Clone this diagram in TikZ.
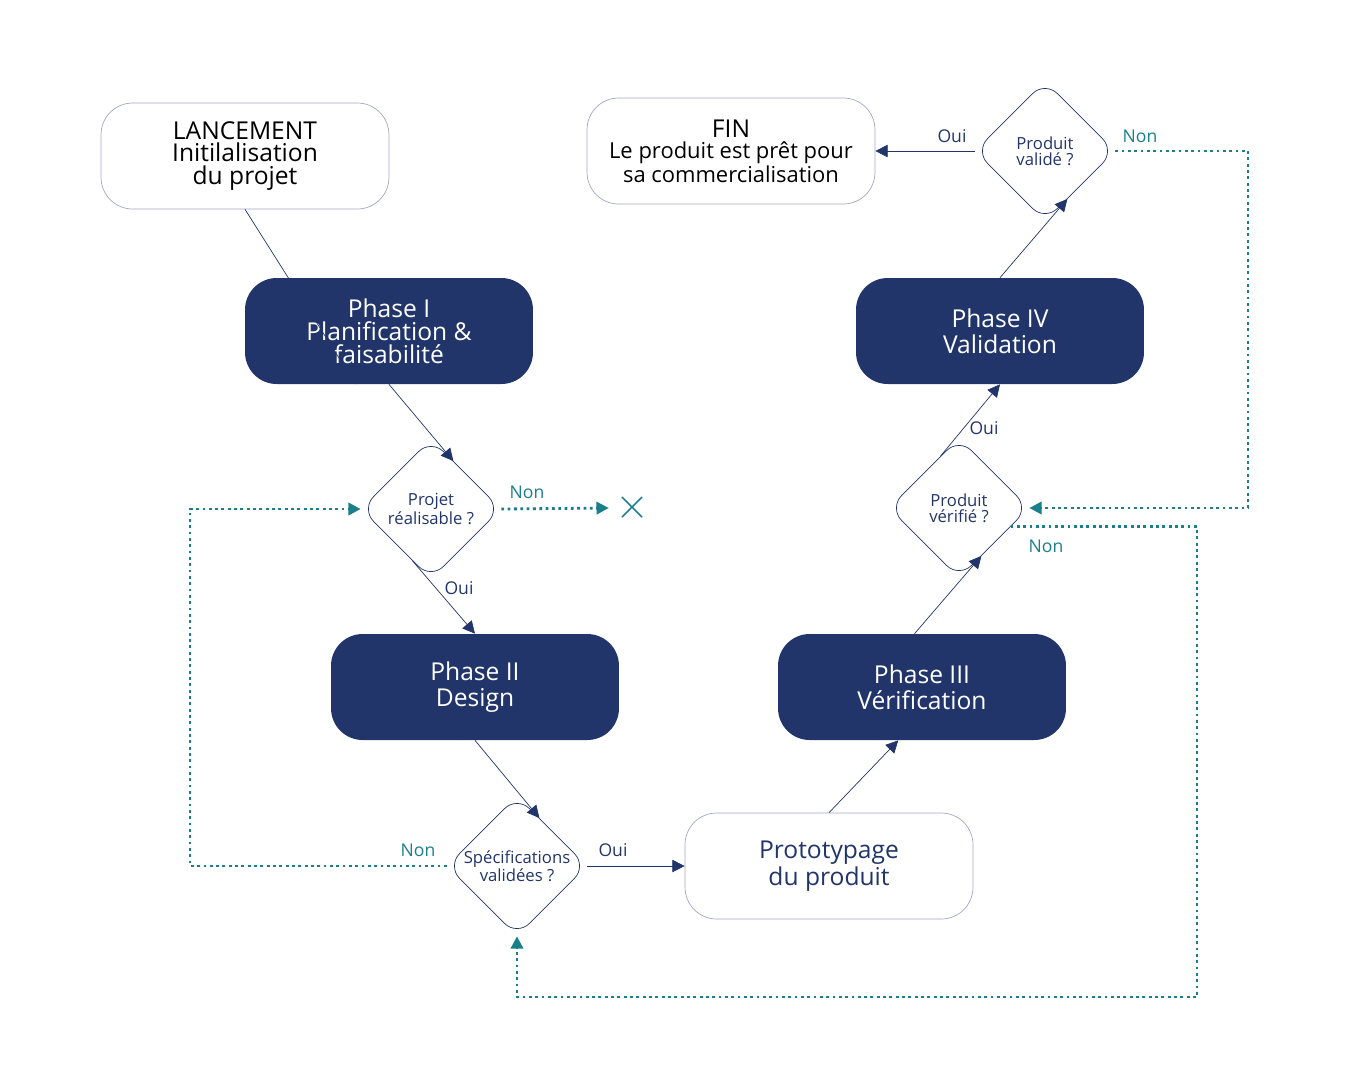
\documentclass[tikz,border=0pt]{standalone}
\usepackage{fontspec}
\setmainfont{Open Sans}
\usetikzlibrary{shapes.geometric,arrows.meta}
\definecolor{navy}{HTML}{22356B}
\definecolor{teal}{HTML}{1A7F8A}
\definecolor{lavande}{HTML}{A4A6C8}
\tikzset{
  box/.style={rectangle, rounded corners=18pt, minimum width=5.76cm, minimum height=2.12cm,
    align=center, font=\fontsize{14}{13}\selectfont},
  blanc/.style={box, draw=lavande, fill=white},
  phase/.style={box, fill=navy, text=white},
  choix/.style={diamond, draw=navy, rounded corners=10pt, minimum width=2.8cm, minimum height=2.8cm,
    inner sep=0pt, align=center, text=navy, font=\fontsize{9.5}{9}\selectfont},
  fleche/.style={draw=navy, -{Triangle[length=7pt,width=7pt]}},
  retour/.style={draw=teal, line width=1.6pt, dotted, -{Triangle[length=7pt,width=7pt]}},
  oui/.style={text=navy, font=\fontsize{10}{10}\selectfont},
  non/.style={text=teal, font=\fontsize{10}{10}\selectfont},
}
\begin{document}
\begin{tikzpicture}[x=0.02cm,y=-0.02cm]
  \useasboundingbox (0,0) rectangle (1350,1080);

  \node (lanc) at (245,156) [blanc] {LANCEMENT\\Initilalisation\\du projet};
  \node (fin) at (731,151) [blanc, font=\fontsize{12.5}{12}\selectfont] {{\fontsize{14}{16}\selectfont FIN}\\Le produit est prêt pour\\sa commercialisation};
  \node (proto) at (829,866) [blanc, text=navy] {Prototypage\\du produit};

  \node (ph1) at (389,331) [phase] {Phase I\\Planification \&\\faisabilité};
  \node (ph2) at (475,687) [phase] {Phase II\\[2pt]Design};
  \node (ph3) at (922,687) [phase] {Phase III\\[2pt]Vérification};
  \node (ph4) at (1000,331) [phase] {Phase IV\\[2pt]Validation};

  \node (d1) at (431,509) [choix] {Projet\\réalisable ?};
  \node (d2) at (517,866) [choix] {Spécifications\\validées ?};
  \node (d3) at (959,508) [choix] {Produit\\vérifié ?};
  \node (d4) at (1045,151) [choix] {Produit\\validé ?};

  \node (stop) at (632,508) [text=teal, font=\fontsize{40}{40}\selectfont\sffamily] {$\times$};

  % flux principal
  \draw [fleche] (lanc.south) -- (ph1.-122);
  \draw [fleche] (ph1.south) -- (d1.65);
  \draw [fleche] (d1.-110) -- (ph2.north);
  \draw [fleche] (ph2.south) -- (d2.65);
  \draw [fleche] (d2.east) -- (proto.west);
  \draw [fleche] (proto.north) -- (ph3.-114);
  \draw [fleche] (ph3.98) -- (d3.-65);
  \draw [fleche] (d3.110) -- (ph4.south);
  \draw [fleche] (ph4.north) -- (d4.-65);
  \draw [fleche] (d4.west) -- (fin.east);

  % retours
  \draw [retour] (d1.east) -- (stop.west);
  \draw [retour] (d2.west) -- (190,866) |- (d1.west);
  \draw [retour] (d4.east) -- (1248,151) |- (d3.east);
  \draw [retour] (d3.-20) -| (1197,997) -| (d2.south);

  \node at (459,588) [oui] {Oui};
  \node at (613,850) [oui] {Oui};
  \node at (984,428) [oui] {Oui};
  \node at (952,136) [oui] {Oui};
  \node at (527,492) [non] {Non};
  \node at (418,850) [non] {Non};
  \node at (1140,136) [non] {Non};
  \node at (1046,546) [non] {Non};
\end{tikzpicture}
\end{document}
